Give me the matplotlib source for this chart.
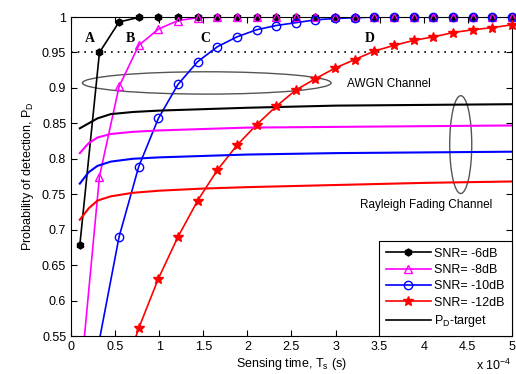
import matplotlib
matplotlib.use("Agg")
import matplotlib.pyplot as plt
from matplotlib.patches import Ellipse
from matplotlib.lines import Line2D
import numpy as np

plt.rcParams['font.family'] = ['Liberation Sans', 'DejaVu Sans']

# Sensing time (units of 1e-4 s) for AWGN curves
ts = np.linspace(0.1, 5.0, 23)

# AWGN channel detection probabilities
pd_6 = [0.678, 0.950, 0.993, 0.9995] + [1.0] * 19
pd_8 = [0.48, 0.775, 0.902, 0.960, 0.983, 0.995, 0.999] + [1.0] * 16
pd_10 = [0.38, 0.545, 0.690, 0.789, 0.857, 0.905, 0.937, 0.958, 0.972, 0.982,
         0.988, 0.992, 0.996, 0.998, 0.999] + [1.0] * 8
pd_12 = [0.30, 0.40, 0.48, 0.561, 0.631, 0.690, 0.741, 0.784, 0.819, 0.848,
         0.874, 0.897, 0.913, 0.928, 0.940, 0.952, 0.960, 0.967, 0.972, 0.978,
         0.982, 0.985, 0.989]

# Rayleigh fading channel curves
ts_fad = [0.1, 0.2, 0.3, 0.45, 0.7, 1.0, 1.5, 2.0, 3.0, 4.0, 5.0]
fad_6 = [0.843, 0.850, 0.857, 0.863, 0.866, 0.868, 0.870, 0.872, 0.875, 0.876, 0.877]
fad_8 = [0.808, 0.822, 0.830, 0.835, 0.838, 0.840, 0.842, 0.844, 0.845, 0.846, 0.847]
fad_10 = [0.765, 0.781, 0.790, 0.796, 0.800, 0.802, 0.804, 0.806, 0.808, 0.809, 0.810]
fad_12 = [0.714, 0.730, 0.741, 0.747, 0.752, 0.755, 0.758, 0.760, 0.763, 0.766, 0.768]

pd_target = 0.95
labels = ['SNR= -6dB', 'SNR= -8dB', 'SNR= -10dB', 'SNR= -12dB']
colors = ['black', '#ff00ff', 'blue', 'red']
markers = ['h', '^', 'o', '*']
msizes = [5, 6, 6, 7]

fig = plt.figure(figsize=(5.16, 3.74), dpi=100)
ax = fig.add_axes([0.1376, 0.1016, 0.8544, 0.8529])

scale = 1e-4
ylo, yhi = 0.55, 1.0
awgn = [pd_6, pd_8, pd_10, pd_12]
fad = [fad_6, fad_8, fad_10, fad_12]
handles = []
for y, c, m, ms, lab in zip(awgn, colors, markers, msizes, labels):
    y = np.array(y)
    mfc = 'none' if m in ('^', 'o') else c
    ax.plot(ts * scale, y, color=c, lw=1.2)
    inside = (y >= ylo) & (y <= yhi)
    ax.plot(ts[inside] * scale, y[inside], ls='none', marker=m, ms=ms, mfc=mfc,
            mec=c, mew=1.0, clip_on=False, zorder=3)
    handles.append(Line2D([], [], color=c, marker=m, ms=ms, mfc=mfc, mec=c,
                          mew=1.0, lw=1.2, label=lab))
for y, c in zip(fad, colors):
    ax.plot(np.array(ts_fad) * scale, y, color=c, lw=1.5)

ax.axhline(pd_target, color='black', ls=(0, (1, 3)), lw=1.2)
handles.append(Line2D([], [], color='black', lw=1.2, label='P$_\\mathregular{D}$-target'))

ax.add_patch(Ellipse((1.54e-4, 0.907), 2.82e-4, 0.0315, fill=False,
                     edgecolor='#555555', lw=1.0))
ax.add_patch(Ellipse((4.42e-4, 0.82), 0.25e-4, 0.138, fill=False,
                     edgecolor='#555555', lw=1.0))

ax.text(3.13e-4, 0.905, 'AWGN Channel', fontsize=8.5, va='center', ha='left')
ax.text(3.28e-4, 0.735, 'Rayleigh Fading Channel', fontsize=8.5, va='center', ha='left')
for letter, xx in zip(['A', 'B', 'C', 'D'], [0.21, 0.67, 1.52, 3.39]):
    ax.text(xx * scale, 0.969, letter, fontsize=10, fontweight='bold',
            family='Liberation Serif', ha='center', va='center')

ax.set_xlim(0, 5e-4)
ax.set_ylim(ylo, yhi)
ax.set_xticks(np.arange(0, 5.01, 0.5) * scale)
ax.set_xticklabels(['0', '0.5', '1', '1.5', '2', '2.5', '3', '3.5', '4', '4.5', '5'])
yt = np.arange(0.55, 1.001, 0.05)
ax.set_yticks(yt)
ax.set_yticklabels(['0.55', '0.6', '0.65', '0.7', '0.75', '0.8', '0.85', '0.9', '0.95', '1'])
ax.tick_params(direction='in', top=True, right=True, labelsize=9, length=4)
fig.text(0.992, 0.012, 'x 10$^{\\mathregular{-4}}$', ha='right', va='baseline', fontsize=9)
ax.set_xlabel('Sensing time, T$_\\mathregular{s}$ (s)', fontsize=9, labelpad=2)
ax.set_ylabel('Probability of detection, P$_\\mathregular{D}$', fontsize=9, labelpad=4)

leg = ax.legend(handles=handles, loc='lower right', fontsize=9, handlelength=3.6,
                fancybox=False, framealpha=1, edgecolor='black', borderaxespad=0,
                labelspacing=0.35, handletextpad=0.3, borderpad=0.55)
leg.get_frame().set_linewidth(0.8)
leg.set_zorder(5)

fig.savefig('out.png', dpi=100)
